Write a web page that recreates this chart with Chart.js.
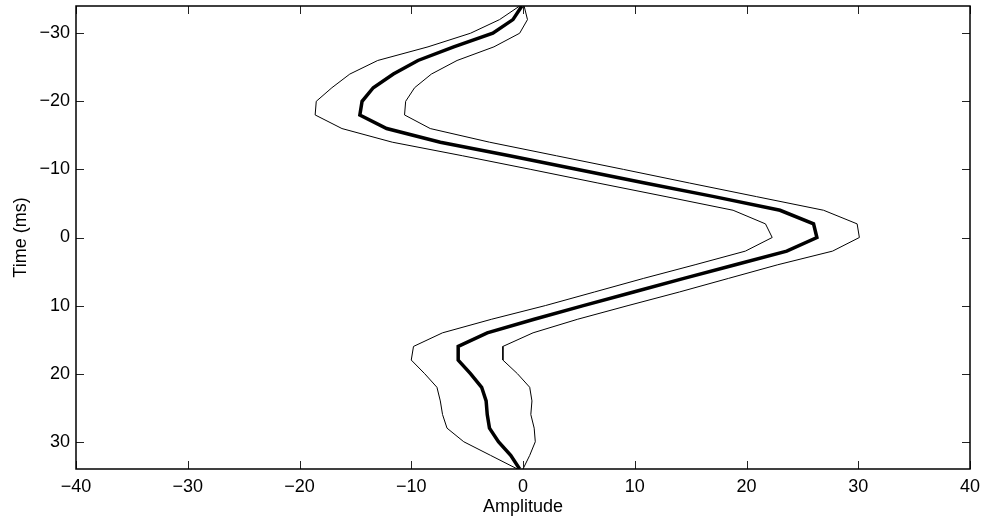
<!DOCTYPE html>
<html>
<head>
<meta charset="utf-8">
<script src="https://cdn.jsdelivr.net/npm/chart.js@4.4.1/dist/chart.umd.min.js"></script>
<style>
html, body { margin: 0; padding: 0; background: #fff; }
#wrap { width: 985px; height: 527px; }
</style>
</head>
<body>
<div id="wrap"><canvas id="myChart" width="985" height="527"></canvas></div>
<script>
// time samples (ms), 2 ms apart
var timeMs = [-34, -32, -30, -28, -26, -24, -22, -20, -18, -16, -14, -12, -10, -8, -6, -4, -2, 0,
              2, 4, 6, 8, 10, 12, 14, 16, 18, 20, 22, 24, 26, 28, 30, 32, 34];
// mean waveform (thick)
var meanAmp = [-0.1, -0.9, -2.7, -6.2, -9.4, -11.6, -13.4, -14.4, -14.6, -12.2, -7.4, -1.2, 4.9, 10.9, 17.1, 23.0, 26.0, 26.3,
               23.6, 19.0, 14.4, 9.9, 5.4, 1.0, -3.2, -5.8, -5.8, -4.7, -3.7, -3.3, -3.2, -3.0, -2.2, -1.1, -0.3];
// upper / lower envelopes (thin)
var upperAmp = [0.1, 0.4, -0.3, -2.6, -5.9, -8.2, -9.7, -10.5, -10.6, -8.3, -3.0, 3.0, 9.0, 14.9, 20.9, 26.9, 29.9, 30.1,
                27.7, 22.8, 18.4, 14.0, 9.4, 4.9, 0.9, -1.8, -1.8, -0.5, 0.6, 0.8, 0.7, 1.0, 1.1, 0.6, 0.0];
var lowerAmp = [-0.3, -2.1, -4.7, -8.5, -13.0, -15.5, -17.1, -18.5, -18.6, -16.2, -11.7, -5.4, 0.7, 6.7, 12.8, 18.8, 21.7, 22.3,
                19.9, 15.4, 10.8, 6.4, 2.0, -2.8, -7.2, -9.8, -10.0, -8.8, -7.7, -7.4, -7.2, -6.8, -5.3, -2.9, -0.5];

var xTicks = [-40, -30, -20, -10, 0, 10, 20, 30, 40];
var yTicks = [-30, -20, -10, 0, 10, 20, 30];

function pairs(amp) {
    return amp.map(function (a, i) { return { x: a, y: timeMs[i] }; });
}
function fmt(v) {
    return String(v).replace('-', '\u2212');
}

var fontFamily = '"Liberation Sans", Arial, Helvetica, sans-serif';

// box + inward tick marks, matlab style
var frameTicks = {
    id: 'frameTicks',
    afterDatasetsDraw: function (chart) {
        var ctx = chart.ctx, a = chart.chartArea;
        var sx = chart.scales.x, sy = chart.scales.y;
        ctx.save();
        ctx.strokeStyle = '#222';
        ctx.lineWidth = 1;
        ctx.beginPath();
        xTicks.forEach(function (v) {
            var p = Math.round(sx.getPixelForValue(v)) + 0.5;
            ctx.moveTo(p, a.bottom); ctx.lineTo(p, a.bottom - 8);
            ctx.moveTo(p, a.top); ctx.lineTo(p, a.top + 8);
        });
        yTicks.forEach(function (v) {
            var p = Math.round(sy.getPixelForValue(v)) + 0.5;
            ctx.moveTo(a.left, p); ctx.lineTo(a.left + 8, p);
            ctx.moveTo(a.right, p); ctx.lineTo(a.right - 8, p);
        });
        ctx.stroke();
        ctx.strokeStyle = '#000';
        ctx.lineWidth = 1.5;
        ctx.strokeRect(a.left, a.top, a.right - a.left, a.bottom - a.top);
        ctx.restore();
    }
};

var ctx = document.getElementById('myChart').getContext('2d');
var myChart = new Chart(ctx, {
    type: 'scatter',
    data: {
        datasets: [{
            label: 'upper',
            data: pairs(upperAmp),
            showLine: true,
            borderColor: '#000',
            borderWidth: 1,
            pointRadius: 0
        }, {
            label: 'lower',
            data: pairs(lowerAmp),
            showLine: true,
            borderColor: '#000',
            borderWidth: 1,
            pointRadius: 0
        }, {
            label: 'mean',
            data: pairs(meanAmp),
            showLine: true,
            borderColor: '#000',
            borderWidth: 3.5,
            pointRadius: 0
        }]
    },
    options: {
        responsive: false,
        animation: false,
        layout: { padding: { left: 0, right: 15, top: 6, bottom: 0 } },
        plugins: {
            legend: { display: false },
            tooltip: { enabled: false }
        },
        scales: {
            x: {
                type: 'linear',
                position: 'bottom',
                min: -40,
                max: 40,
                afterBuildTicks: function (s) { s.ticks = xTicks.map(function (v) { return { value: v }; }); },
                afterFit: function (s) { s.height = 58; s.paddingLeft = 0; s.paddingRight = 0; },
                grid: { display: false, drawTicks: false },
                border: { display: false },
                ticks: {
                    color: '#000',
                    autoSkip: false,
                    maxRotation: 0,
                    padding: 7,
                    font: { family: fontFamily, size: 18 },
                    callback: fmt
                },
                title: {
                    display: true,
                    text: 'Amplitude',
                    color: '#000',
                    font: { family: fontFamily, size: 18 },
                    padding: { top: 0, bottom: 9 }
                }
            },
            y: {
                type: 'linear',
                position: 'left',
                reverse: true,
                min: -34,
                max: 34,
                afterBuildTicks: function (s) { s.ticks = yTicks.map(function (v) { return { value: v }; }); },
                afterFit: function (s) { s.width = 76; s.paddingTop = 0; s.paddingBottom = 0; },
                grid: { display: false, drawTicks: false },
                border: { display: false },
                ticks: {
                    color: '#000',
                    autoSkip: false,
                    padding: 6,
                    font: { family: fontFamily, size: 18 },
                    callback: fmt
                },
                title: {
                    display: true,
                    text: 'Time (ms)',
                    color: '#000',
                    font: { family: fontFamily, size: 18 },
                    padding: { top: 10, bottom: 0 }
                }
            }
        }
    },
    plugins: [frameTicks]
});
</script>
</body>
</html>
